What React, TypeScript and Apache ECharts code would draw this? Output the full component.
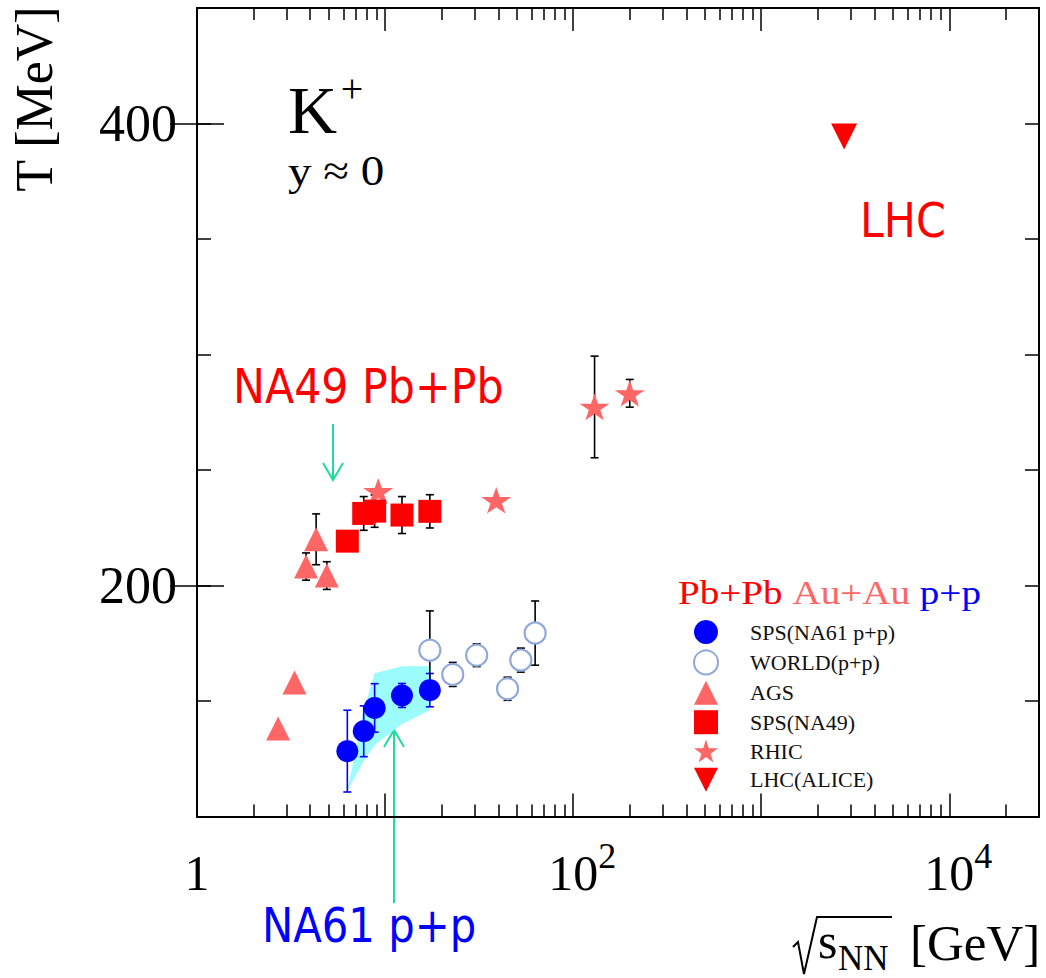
import React, { useEffect, useRef } from 'react';
import * as echarts from 'echarts';

// ---------------- data ----------------
const na61X = [6.3, 7.7, 8.8, 12.3, 17.3];
const na61T = [128.3, 136.9, 147.0, 152.4, 154.7];
const na61Err = [17.7, 11.0, 10.5, 5.2, 7.2];

const worldX = [17.3, 22.9, 30.7, 44.8, 52.7, 62.8];
const worldT = [172.0, 161.5, 169.8, 155.3, 167.7, 179.4];
const worldErr = [17.0, 5.2, 4.9, 5.0, 5.2, 13.9];

const agsX = [2.7, 3.3, 3.8, 4.3, 4.9];
const agsT = [138.1, 158.0, 208.2, 220.0, 204.3];
const agsErr = [0, 0, 5.9, 11.0, 6.0];

const na49X = [6.3, 7.7, 8.8, 12.3, 17.3];
const na49T = [219.2, 231.2, 232.2, 230.5, 232.1];
const na49Err = [3.0, 7.3, 7.0, 8.0, 7.2];

const rhicX = [9.2, 39, 130, 200];
const rhicT = [240.8, 236.9, 277.3, 283.2];
const rhicErr = [0, 0, 22.0, 6.0];

const lhcX = [2760];
const lhcT = [394.4];

// NA61 systematic band
const bandX = [6.3, 7.7, 8.8, 12.3, 17.3];
const bandLow = [111, 124, 131, 140, 146];
const bandHigh = [111, 146, 162, 165, 165];

// axes
const xMin = 1;
const xMax = 30000;
const yMin = 100;
const yMax = 450;
const yStep = 50;
const yLabelValues = [200, 400];
const xLabelPowers = [0, 2, 4];
const minorMultipliers = [2, 3, 4, 5, 6, 7, 8, 9];

const legendNames = ['SPS(NA61 p+p)', 'WORLD(p+p)', 'AGS', 'SPS(NA49)', 'RHIC', 'LHC(ALICE)'];

// ---------------- style ----------------
const SERIF = "'Liberation Serif', 'Times New Roman', serif";
const SANS = "'DejaVu Sans', sans-serif";
const RED = '#FF0000';
const LIGHTRED = '#FF6666';
const BLUE = '#0000FF';
const WORLD = '#8FA8DA';
const GREEN = '#1EDC9C';
const BAND = '#9CFBFB';
const STAR = 'path://M50,2 L61.2,36.6 L97.6,36.6 L68.2,58 L79.4,92.6 L50,71.2 L20.6,92.6 L31.8,58 L2.4,36.6 L38.8,36.6 Z';
const DOWN_TRIANGLE = 'path://M0,0 L100,0 L50,100 Z';

function errData(xs: number[], ts: number[], es: number[]) {
  return xs.map((x, i) => [x, ts[i] - es[i], ts[i] + es[i]]);
}

function errRender(color: string, cap: number) {
  return (params: any, api: any) => {
    const x = api.value(0);
    const lo = api.value(1);
    const hi = api.value(2);
    if (!(hi - lo > 0)) return null;
    const a = api.coord([x, lo]);
    const b = api.coord([x, hi]);
    const style = { stroke: color, lineWidth: 1.6 };
    return {
      type: 'group',
      children: [
        { type: 'line', shape: { x1: a[0], y1: a[1], x2: b[0], y2: b[1] }, style },
        { type: 'line', shape: { x1: a[0] - cap, y1: a[1], x2: a[0] + cap, y2: a[1] }, style },
        { type: 'line', shape: { x1: b[0] - cap, y1: b[1], x2: b[0] + cap, y2: b[1] }, style },
      ],
    };
  };
}

function pts(xs: number[], ts: number[]) {
  return xs.map((x, i) => [x, ts[i]]);
}

export default function App() {
  const ref = useRef<HTMLDivElement>(null);

  useEffect(() => {
    document.body.style.margin = '0';
    document.body.style.overflow = 'hidden';
    if (!ref.current) return;
    const chart = echarts.init(ref.current, undefined, { renderer: 'svg' });

    const minorTicks: number[] = [];
    for (let k = 0; k < 5; k++) {
      for (const m of minorMultipliers) {
        const v = m * Math.pow(10, k);
        if (v < xMax) minorTicks.push(Math.log10(v));
      }
    }

    const axisLine = { show: true, onZero: false, lineStyle: { color: '#000', width: 2 } };
    const tickStyle = { color: '#000', width: 1.5 };

    const gridRect = { left: 197, top: 8, width: 842, height: 808.5, outerBoundsMode: 'none' };

    const legendData = legendNames.map((n) =>
      n === 'LHC(ALICE)' ? { name: n, icon: DOWN_TRIANGLE } : { name: n }
    );

    const option: any = {
      animation: false,
      backgroundColor: '#fff',
      textStyle: { fontFamily: SERIF },
      grid: [gridRect, { ...gridRect }],
      xAxis: [
        {
          gridIndex: 0,
          type: 'log',
          logBase: 10,
          min: xMin,
          max: xMax,
          position: 'bottom',
          axisLine,
          splitLine: { show: false },
          axisTick: { show: true, inside: true, length: 23, lineStyle: tickStyle },
          axisLabel: {
            show: true,
            interval: 0,
            margin: 21,
            showMinLabel: true,
            formatter: (v: number) => {
              const lg = Math.log10(v);
              const p = Math.round(lg);
              if (Math.abs(lg - p) > 1e-6 || xLabelPowers.indexOf(p) < 0) return '';
              return p === 0 ? '{n|1}' : `{sp|}{n|10}{s|${p}}`;
            },
            rich: {
              n: { fontFamily: SERIF, fontSize: 50, lineHeight: 60, verticalAlign: 'bottom', color: '#000' },
              s: { fontFamily: SERIF, fontSize: 36, lineHeight: 26, verticalAlign: 'top', color: '#000' },
              sp: { width: 18 },
            },
          },
        },
        {
          gridIndex: 0,
          type: 'log',
          logBase: 10,
          min: xMin,
          max: xMax,
          position: 'top',
          axisLine,
          splitLine: { show: false },
          axisTick: { show: true, inside: true, length: 23, lineStyle: tickStyle },
          axisLabel: { show: false },
        },
        {
          gridIndex: 1,
          type: 'value',
          min: 0,
          max: Math.log10(xMax),
          position: 'bottom',
          axisLine: { show: false },
          splitLine: { show: false },
          axisTick: { show: true, inside: true, length: 12, customValues: minorTicks, lineStyle: tickStyle },
          axisLabel: { show: false },
        },
        {
          gridIndex: 1,
          type: 'value',
          min: 0,
          max: Math.log10(xMax),
          position: 'top',
          axisLine: { show: false },
          splitLine: { show: false },
          axisTick: { show: true, inside: true, length: 12, customValues: minorTicks, lineStyle: tickStyle },
          axisLabel: { show: false },
        },
      ],
      yAxis: [
        {
          gridIndex: 0,
          type: 'value',
          min: yMin,
          max: yMax,
          interval: yStep,
          position: 'left',
          axisLine,
          splitLine: { show: false },
          axisTick: { show: true, inside: true, length: 14, lineStyle: tickStyle },
          axisLabel: {
            show: true,
            interval: 0,
            margin: 20,
            fontFamily: SERIF,
            fontSize: 52,
            color: '#000',
            formatter: (v: number) => (yLabelValues.indexOf(v) >= 0 ? String(v) : ''),
          },
        },
        {
          gridIndex: 0,
          type: 'value',
          min: yMin,
          max: yMax,
          interval: yStep,
          position: 'right',
          axisLine,
          splitLine: { show: false },
          axisTick: { show: true, inside: true, length: 14, lineStyle: tickStyle },
          axisLabel: { show: false },
        },
        {
          gridIndex: 1,
          type: 'value',
          min: yMin,
          max: yMax,
          position: 'left',
          axisLine: { show: false },
          splitLine: { show: false },
          axisTick: { show: true, inside: true, length: 27, customValues: yLabelValues, lineStyle: tickStyle },
          axisLabel: { show: false },
        },
        {
          gridIndex: 1,
          type: 'value',
          min: yMin,
          max: yMax,
          position: 'right',
          axisLine: { show: false },
          splitLine: { show: false },
          axisTick: { show: true, inside: true, length: 27, customValues: yLabelValues, lineStyle: tickStyle },
          axisLabel: { show: false },
        },
      ],
      legend: {
        data: legendData,
        orient: 'vertical',
        left: 693,
        top: 620,
        padding: 0,
        itemWidth: 24,
        itemHeight: 24,
        itemGap: 5.4,
        selectedMode: false,
        symbolKeepAspect: true,
        textStyle: { fontFamily: SERIF, fontSize: 22, color: '#111', padding: [0, 0, 0, 27] },
      },
      series: [
        {
          type: 'custom',
          name: 'band',
          xAxisIndex: 0,
          yAxisIndex: 0,
          data: bandX.map((x, i) => [x, bandLow[i], bandHigh[i]]),
          encode: { x: 0, y: [1, 2] },
          renderItem: (params: any, api: any) => {
            if (params.dataIndex !== 0) return null;
            const up = bandX.map((x, i) => api.coord([x, bandHigh[i]]));
            const dn = bandX.map((x, i) => api.coord([x, bandLow[i]])).reverse();
            return { type: 'polygon', shape: { points: up.concat(dn) }, style: { fill: BAND } };
          },
          silent: true,
        },
        {
          type: 'custom', name: 'na61err', xAxisIndex: 0, yAxisIndex: 0,
          data: errData(na61X, na61T, na61Err), encode: { x: 0, y: [1, 2] },
          renderItem: errRender(BLUE, 4), silent: true,
        },
        {
          type: 'custom', name: 'agserr', xAxisIndex: 0, yAxisIndex: 0,
          data: errData(agsX, agsT, agsErr), encode: { x: 0, y: [1, 2] },
          renderItem: errRender('#000', 4), silent: true,
        },
        {
          type: 'custom', name: 'na49err', xAxisIndex: 0, yAxisIndex: 0,
          data: errData(na49X, na49T, na49Err), encode: { x: 0, y: [1, 2] },
          renderItem: errRender('#000', 4), silent: true,
        },
        {
          type: 'custom', name: 'rhicerr', xAxisIndex: 0, yAxisIndex: 0,
          data: errData(rhicX, rhicT, rhicErr), encode: { x: 0, y: [1, 2] },
          renderItem: errRender('#000', 4), silent: true,
        },
        {
          type: 'scatter', name: 'SPS(NA61 p+p)', xAxisIndex: 0, yAxisIndex: 0,
          data: pts(na61X, na61T), symbol: 'circle', symbolSize: 22,
          itemStyle: { color: BLUE, opacity: 1 },
        },
        {
          type: 'scatter', name: 'AGS', xAxisIndex: 0, yAxisIndex: 0,
          data: pts(agsX, agsT), symbol: 'triangle', symbolSize: 24,
          itemStyle: { color: LIGHTRED, opacity: 1 },
        },
        {
          type: 'scatter', name: 'RHIC', xAxisIndex: 0, yAxisIndex: 0,
          data: pts(rhicX, rhicT), symbol: STAR, symbolSize: [30, 28], symbolKeepAspect: true,
          itemStyle: { color: LIGHTRED, opacity: 1 },
        },
        {
          type: 'scatter', name: 'SPS(NA49)', xAxisIndex: 0, yAxisIndex: 0,
          data: pts(na49X, na49T), symbol: 'rect', symbolSize: 23,
          itemStyle: { color: RED, opacity: 1 },
        },
        {
          type: 'scatter', name: 'LHC(ALICE)', xAxisIndex: 0, yAxisIndex: 0,
          data: pts(lhcX, lhcT), symbol: DOWN_TRIANGLE, symbolSize: 26, symbolKeepAspect: true,
          itemStyle: { color: RED, opacity: 1 },
        },
        {
          type: 'custom', name: 'worlderr', xAxisIndex: 0, yAxisIndex: 0,
          data: errData(worldX, worldT, worldErr), encode: { x: 0, y: [1, 2] },
          renderItem: errRender('#000', 4), silent: true,
        },
        {
          type: 'scatter', name: 'WORLD(p+p)', xAxisIndex: 0, yAxisIndex: 0,
          data: pts(worldX, worldT), symbol: 'circle', symbolSize: 21,
          itemStyle: { color: '#fff', borderColor: WORLD, borderWidth: 2.2, opacity: 1 },
        },
      ],
      graphic: [
        // title K+ and y ~ 0
        { type: 'text', x: 288, y: 110, style: { text: 'K', fontFamily: SERIF, fontSize: 68, fill: '#000', align: 'left', verticalAlign: 'middle', textAlign: 'left', textVerticalAlign: 'middle' } },
        { type: 'text', x: 352, y: 88, style: { text: '+', fontFamily: SERIF, fontSize: 40, fill: '#000', align: 'center', verticalAlign: 'middle', textAlign: 'center', textVerticalAlign: 'middle' } },
        { type: 'text', x: 288, y: 171, scaleX: 1.12, style: { text: 'y ≈ 0', fontFamily: SERIF, fontSize: 42, fill: '#000', align: 'left', verticalAlign: 'middle', textAlign: 'left', textVerticalAlign: 'middle' } },
        // y axis title
        { type: 'text', x: 34.5, y: 99, rotation: Math.PI / 2, style: { text: 'T [MeV]', fontFamily: SERIF, fontSize: 52, fill: '#000', align: 'center', verticalAlign: 'middle', textAlign: 'center', textVerticalAlign: 'middle' } },
        // x axis title: sqrt(s_NN) [GeV]
        { type: 'polyline', shape: { points: [[793, 947], [798, 942], [804, 974], [817, 917], [892, 917]] }, style: { stroke: '#000', lineWidth: 2, fill: 'none' } },
        { type: 'text', x: 818, y: 941, style: { text: 's', fontFamily: SERIF, fontSize: 50, fill: '#000', align: 'left', verticalAlign: 'middle', textAlign: 'left', textVerticalAlign: 'middle' } },
        { type: 'text', x: 838, y: 958.5, style: { text: 'NN', fontFamily: SERIF, fontSize: 35, fill: '#000', align: 'left', verticalAlign: 'middle', textAlign: 'left', textVerticalAlign: 'middle' } },
        { type: 'text', x: 910, y: 943, style: { text: '[GeV]', fontFamily: SERIF, fontSize: 51, fill: '#000', align: 'left', verticalAlign: 'middle', textAlign: 'left', textVerticalAlign: 'middle' } },
        // annotations
        { type: 'text', x: 233, y: 386.5, scaleX: 0.89, style: { text: 'NA49 Pb+Pb', fontFamily: SANS, fontSize: 48, fill: RED, align: 'left', verticalAlign: 'middle', textAlign: 'left', textVerticalAlign: 'middle' } },
        { type: 'text', x: 262, y: 925.5, scaleX: 0.87, style: { text: 'NA61 p+p', fontFamily: SANS, fontSize: 48, fill: BLUE, align: 'left', verticalAlign: 'middle', textAlign: 'left', textVerticalAlign: 'middle' } },
        { type: 'text', x: 860, y: 220.5, scaleX: 0.89, style: { text: 'LHC', fontFamily: SANS, fontSize: 48, fill: RED, align: 'left', verticalAlign: 'middle', textAlign: 'left', textVerticalAlign: 'middle' } },
        // arrows
        { type: 'line', shape: { x1: 333, y1: 424, x2: 333, y2: 480 }, style: { stroke: GREEN, lineWidth: 2 } },
        { type: 'polyline', shape: { points: [[323, 463], [333, 480], [343, 463]] }, style: { stroke: GREEN, lineWidth: 2, fill: 'none' } },
        { type: 'line', shape: { x1: 394, y1: 730, x2: 394, y2: 903 }, style: { stroke: GREEN, lineWidth: 2 } },
        { type: 'polyline', shape: { points: [[384, 747], [394, 730], [404, 747]] }, style: { stroke: GREEN, lineWidth: 2, fill: 'none' } },
        // legend header
        {
          type: 'text', x: 678, y: 592.5, scaleX: 1.15,
          style: {
            text: '{a|Pb+Pb} {b|Au+Au} {c|p+p}',
            fontFamily: SERIF, fontSize: 34, fill: '#000',
            align: 'left', verticalAlign: 'middle', textAlign: 'left', textVerticalAlign: 'middle',
            rich: {
              a: { fontFamily: SERIF, fontSize: 34, fill: RED, color: RED },
              b: { fontFamily: SERIF, fontSize: 34, fill: LIGHTRED, color: LIGHTRED },
              c: { fontFamily: SERIF, fontSize: 34, fill: BLUE, color: BLUE },
            },
          },
        },
      ],
    };

    chart.setOption(option);
    return () => chart.dispose();
  }, []);

  return <div ref={ref} style={{ width: 1046, height: 978 }} />;
}
